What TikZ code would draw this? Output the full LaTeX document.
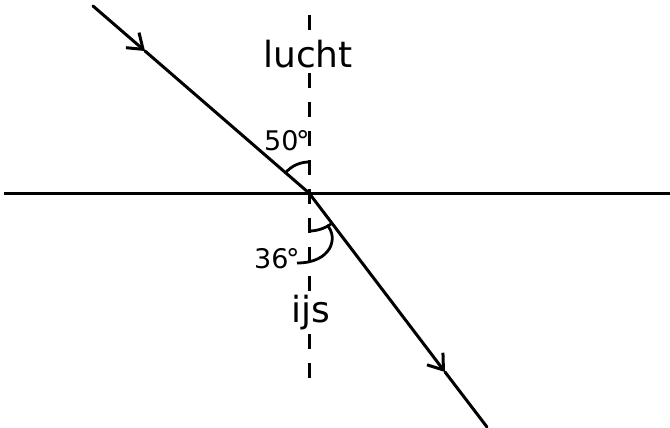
\documentclass[tikz,border=0pt]{standalone}
\usepackage{fontspec}
\setmainfont{DejaVu Sans}
\usetikzlibrary{arrows.meta}
\tikzset{
  ray/.style={line width=3pt, line cap=round},
  raytip/.style={-{Straight Barb[length=14pt,width=20pt,line width=3pt]}},
  normalline/.style={line width=3pt, dash pattern=on 15pt off 14pt},
  surface/.style={line width=3pt},
  anglemark/.style={line width=2.8pt},
  biglabel/.style={font=\fontsize{36}{40}\selectfont, fill=white, inner sep=2pt},
  anglelabel/.style={font=\fontsize{27}{30}\selectfont, inner sep=1pt},
}
\begin{document}
\begin{tikzpicture}[x=1pt,y=-1pt]
\useasboundingbox (0,0) rectangle (670,428);
% coordinates
\coordinate (O) at (309,193);
\coordinate (L) at (4,193);
\coordinate (R) at (670,193);
\coordinate (T) at (309,15);
\coordinate (Bt) at (309,381);
\coordinate (A) at (93,6);
\coordinate (M1) at (145,51);
\coordinate (M2) at (445,372);
\coordinate (B) at (487,427);
% surface and normal
\draw[surface] (L) -- (R);
\draw[normalline] (T) -- (Bt);
% labels
\node[biglabel, anchor=base] (lucht) at (308,67) {lucht};
\node[biglabel, anchor=base] (ijs) at (311,322) {ijs};
\node[anglelabel, anchor=base west] (a50) at (263,150) {50\kern-2.5pt°};
\node[anglelabel, anchor=base west, fill=white] (a36) at (253,268) {36\kern-2.5pt°};
% rays
\draw[ray, raytip] (A) -- (M1);
\draw[ray] (M1) -- (O);
\draw[ray, raytip] (O) -- (M2);
\draw[ray] (M2) -- (B);
% angle marks
\draw[anglemark] (O) ++(221:31) arc[start angle=221, end angle=270, radius=31];
\draw[anglemark] (O) ++(90:38) arc[start angle=90, end angle=52.7, radius=38];
\coordinate (tailstart) at (327,225);
\draw[anglemark] (tailstart) .. controls (339,238) and (331,263) .. (297,263);
\end{tikzpicture}
\end{document}
